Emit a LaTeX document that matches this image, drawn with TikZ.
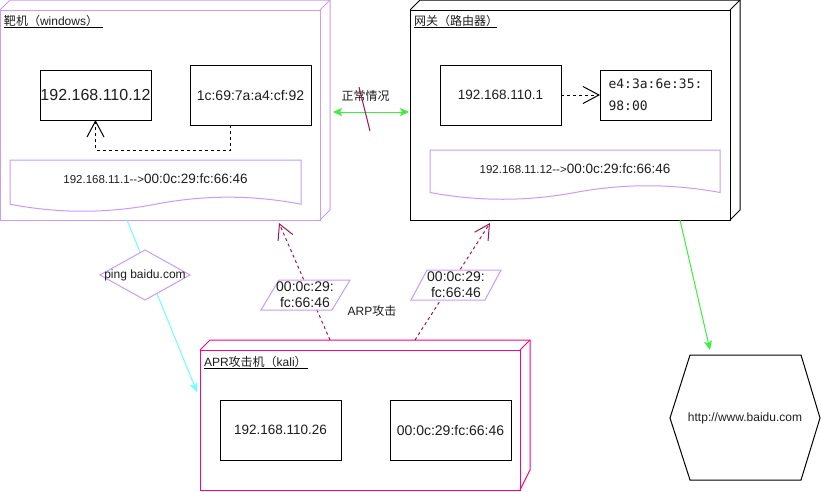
\documentclass[tikz,border=0pt]{standalone}
\usepackage{fontspec}
\setmainfont{Liberation Sans}
\newfontfamily\cjk{Noto Sans CJK SC}
\newfontfamily\macfont{DejaVu Sans Mono}
\usetikzlibrary{arrows.meta,calc}

\definecolor{lilac}{RGB}{204,153,255}
\definecolor{hotpink}{RGB}{255,0,128}
\definecolor{arpred}{RGB}{165,20,90}
\definecolor{okgreen}{RGB}{60,240,60}
\definecolor{pingcyan}{RGB}{110,255,255}
\definecolor{ink}{RGB}{30,30,30}

\newcommand{\fsz}[1]{\fontsize{#1}{#1}\selectfont}
% two hyphens and a '>' without the TeX dash ligature
\newcommand{\maparrow}{-{}-{}>}

\tikzset{
  face/.style={draw, line width=1pt, inner sep=0pt, outer sep=0pt},
  hostbox/.style={draw=black, line width=1pt, inner sep=0pt, outer sep=0pt,
    minimum width=121pt, minimum height=60pt, text=ink, font=\fsz{14}},
  smallbox/.style={hostbox, minimum width=111pt, minimum height=50pt},
  title/.style={anchor=base west, inner sep=0pt, outer sep=0pt, text=ink, font=\fsz{12}},
  plain/.style={inner sep=0pt, outer sep=0pt, text=ink, align=center},
  dashlink/.style={draw=black, line width=1pt, dash pattern=on 3pt off 3pt,
    -{Straight Barb[length=16pt,width=17pt]}},
  arplink/.style={draw=arpred, line width=1pt, dash pattern=on 3pt off 3pt,
    -{Straight Barb[length=15pt,width=16pt]}},
  greenlink/.style={draw=okgreen, line width=1pt},
  greentip/.tip={Stealth[length=9pt,width=8pt,inset=2pt]},
}

\begin{document}
\begin{tikzpicture}[x=1pt,y=-1pt,line width=1pt]
\fill[white] (0,0) rectangle (821,491);
\useasboundingbox (0,0) rectangle (821,491);

% ---------- target host (windows) ----------
\node[face,draw=lilac,minimum width=320pt,minimum height=210pt] (tgt) at (160,115) {};
\draw[lilac] (tgt.north west) -- ++(10,-10) -- ++(320,0) -- ++(0,210) -- (tgt.south east);
\draw[lilac] (tgt.north east) -- ++(10,-10);
\node[title] (tgtlbl) at (4,25) {{\cjk 靶机（}windows{\cjk ）}};
\draw[black] (4,27) -- (103,27);

\node[smallbox,font=\fsz{16}] (ip1) at (95.5,95) {192.168.110.12};
\node[hostbox] (mac1) at (250.5,95) {1c:69:7a:a4:cf:92};
\draw[dashlink] ([xshift=-20pt]mac1.south) -- ++(0,25) -| (ip1.south);

\draw[lilac,fill=white] (10,160) -- (301,160) -- (301,204.2)
  .. controls (252.5,194.84) and (204,194.84) .. (155.5,204.2)
  .. controls (107,213.56) and (58.5,213.56) .. (10,204.2) -- cycle;
\node[plain] (doc1) at (155.5,179) {{\fsz{11.5}192.168.11.1\maparrow}{\fsz{13.5}00:0c:29:fc:66:46}};

% ---------- gateway (router) ----------
\node[face,draw=black,minimum width=320pt,minimum height=210pt] (gw) at (570,115) {};
\draw[black] (gw.north west) -- ++(10,-10) -- ++(320,0) -- ++(0,210) -- (gw.south east);
\draw[black] (gw.north east) -- ++(10,-10);
\node[title] (gwlbl) at (414,25) {{\cjk 网关（路由器）}};
\draw[black] (414,27) -- (497,27);

\node[hostbox,font=\fsz{13.5}] (ip2) at (500.5,95) {192.168.110.1};
\node[smallbox,font=\macfont\fontsize{13}{22}\selectfont,align=left] (mac2) at (655.5,95) {e4:3a:6e:35:\\98:00};
\draw[dashlink] (ip2.east) -- (mac2.west);

\draw[lilac,fill=white] (430,150) -- (720,150) -- (720,192.5)
  .. controls (671.67,183.5) and (623.33,183.5) .. (575,192.5)
  .. controls (526.67,201.5) and (478.33,201.5) .. (430,192.5) -- cycle;
\node[plain] (doc2) at (575,169) {{\fsz{11.5}192.168.11.12\maparrow}{\fsz{13.5}00:0c:29:fc:66:46}};

% ---------- normal traffic between target and gateway ----------
\coordinate (tgtport) at (333,112);
\coordinate (gwport) at (409,112);
\draw[greenlink,greentip-greentip] (tgtport) -- (gwport);
\node[plain,font=\cjk\fsz{12}] (normal) at (365.5,95.5) {正常情况};
\coordinate (mk1) at (359,87);
\coordinate (mk2) at (370,131);
\draw[arpred] (mk1) -- (mk2);

% ---------- attacker (kali) ----------
\node[face,draw=hotpink,minimum width=320pt,minimum height=140pt] (atk) at (360,420) {};
\draw[hotpink] (atk.north west) -- ++(10,-10) -- ++(320,0) -- ++(0,130) -- (atk.south east);
\draw[hotpink] (atk.north east) -- ++(10,-10);
\node[title] (atklbl) at (204,366) {APR{\cjk 攻击机（}kali{\cjk ）}};
\draw[black] (204,368) -- (308,368);

\node[hostbox,font=\fsz{13.5}] (ip3) at (280.5,430) {192.168.110.26};
\node[hostbox] (mac3) at (450.5,430) {00:0c:29:fc:66:46};

% ---------- ping from target ----------
\coordinate (pingsrc) at (127,220);
\coordinate (pingdst) at (197,392);
\draw[pingcyan,-{Stealth[length=9pt,width=8pt,inset=2pt]}] (pingsrc) -- (pingdst);
\coordinate (pingc) at (145,275);
\draw[lilac,fill=white] (pingc) +(-45,0) -- +(0,-25) -- +(45,0) -- +(0,25) -- cycle;
\node[plain,font=\fsz{12}] (ping) at (pingc) {ping baidu.com};

% ---------- ARP spoofing ----------
\coordinate (arpA) at (330,340);
\coordinate (arpAend) at (279,223);
\coordinate (arpB) at (415,340);
\coordinate (arpBend) at (490,223);
\draw[arplink] (arpA) -- (arpAend);
\draw[arplink] (arpB) -- (arpBend);
\draw[lilac,fill=white] (279,280) -- (350,280) -- (332,310) -- (261,310) -- cycle;
\node[plain,font=\fontsize{14}{16}\selectfont] (fakemac1) at (305,295) {00:0c:29:\\fc:66:46};
\draw[lilac,fill=white] (427,270) -- (501,270) -- (485,300) -- (411,300) -- cycle;
\node[plain,font=\fontsize{14}{16}\selectfont] (fakemac2) at (456,285) {00:0c:29:\\fc:66:46};
\node[plain,font=\fsz{12}] (arplbl) at (372,311) {ARP{\cjk 攻击}};

% ---------- internet ----------
\coordinate (webc) at (745,418);
\draw[black] (690,355) -- (801,355) -- (820,418) -- (801,480) -- (690,480) -- (670,418) -- cycle;
\node[plain,font=\fsz{12}] (web) at (webc) {http://www.baidu.com};
\coordinate (gwout) at (680,220);
\coordinate (webin) at (710,350);
\draw[greenlink,-greentip] (gwout) -- (webin);

\end{tikzpicture}
\end{document}
